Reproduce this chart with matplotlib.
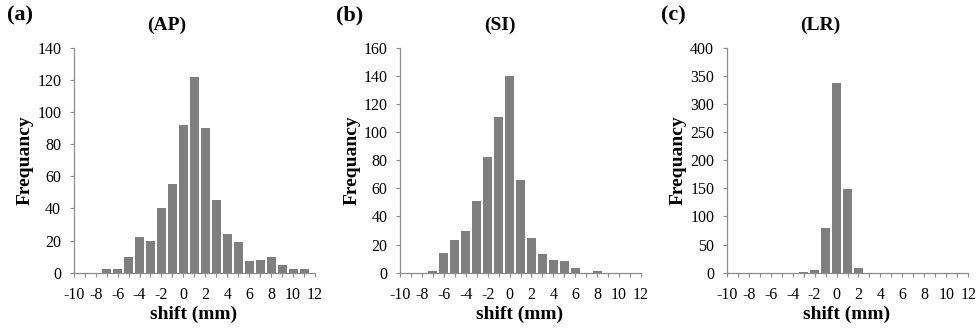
import numpy as np
import matplotlib.pyplot as plt

# shift bins (mm), centers of the histogram bars
shift = list(range(-10, 12))

ap_freq = [0, 0, 0, 2, 2, 10, 22, 20, 40, 55, 92, 122, 90, 45, 24, 19, 7, 8, 10, 5, 2, 2]
si_freq = [0, 0, 0, 1, 14, 23, 30, 51, 82, 111, 140, 66, 25, 13, 9, 8, 3, 0, 1, 0, 0, 0]
lr_freq = [0, 0, 0, 0, 0, 0, 0, 2, 5, 80, 337, 149, 9, 0, 0, 0, 0, 0, 0, 0, 0, 0]

panels = ["(a)", "(b)", "(c)"]
titles = ["(AP)", "(SI)", "(LR)"]
ymax = [140, 160, 400]
ystep = [20, 20, 50]

xticks = list(range(-10, 13))
xlabels = [str(t) if t % 2 == 0 else "" for t in xticks]

plt.rcParams['font.family'] = ['Liberation Serif', 'DejaVu Serif']

fig = plt.figure(figsize=(9.76, 3.28), dpi=100)

lefts = [73.7, 400, 726.7]
widths = [241.3, 241, 241.6]
title_x = [167, 500, 820]
panel_x = [20, 350, 673]
bottom = 1 - 272.7 / 328
height = 225 / 328
axis_col = "#8c8c8c"

for i, freq in enumerate([ap_freq, si_freq, lr_freq]):
    ax = fig.add_axes([lefts[i] / 976, bottom, widths[i] / 976, height])
    ax.bar(shift, freq, width=0.82, color="#7f7f7f", align="center", zorder=2)
    ax.set_xlim(-10, 12)
    ax.set_ylim(0, ymax[i])
    ax.set_xticks(xticks)
    ax.set_xticklabels(xlabels)
    ax.set_yticks(np.arange(0, ymax[i] + 1, ystep[i]))
    for s in ["top", "right"]:
        ax.spines[s].set_visible(False)
    for s in ["left", "bottom"]:
        ax.spines[s].set_color(axis_col)
        ax.spines[s].set_linewidth(0.9)
    ax.tick_params(axis="x", direction="out", length=3, width=0.8, color=axis_col,
                   labelsize=11.5, pad=7)
    ax.tick_params(axis="y", direction="out", length=3, width=0.8, color=axis_col,
                   labelsize=11.5, pad=6)
    ax.set_xlabel("shift (mm)", fontsize=14, fontweight="bold")
    ax.set_ylabel("Frequancy", fontsize=14, fontweight="bold")
    ax.xaxis.set_label_coords(0.495, -0.145)
    ax.yaxis.set_label_coords(-0.165, 0.5)
    fig.text(title_x[i] / 976, 1 - 25 / 328, titles[i], ha="center", va="center",
             fontsize=14, fontweight="bold")
    fig.text(panel_x[i] / 976, 1 - 15 / 328, panels[i], ha="center", va="center",
             fontsize=16, fontweight="bold")

fig.savefig("out.png", dpi=100)
